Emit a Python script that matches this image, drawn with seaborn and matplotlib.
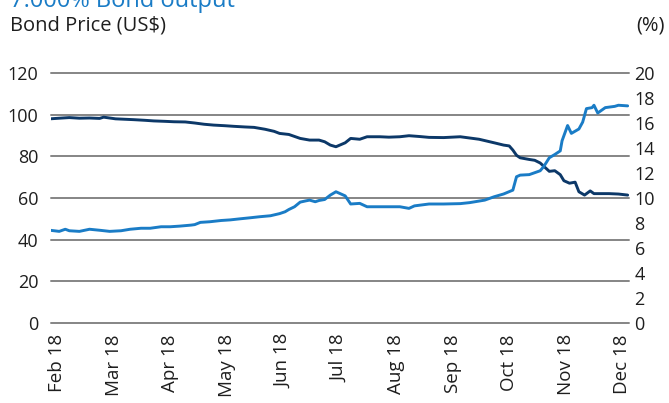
import matplotlib
matplotlib.use("Agg")
import matplotlib.pyplot as plt
import seaborn as sns
import pandas as pd

# Bond price (US$), left axis
price_dates = [
    "2018-01-28", "2018-02-02", "2018-02-07", "2018-02-12", "2018-02-17", "2018-02-22",
    "2018-02-24", "2018-03-02", "2018-03-07", "2018-03-12", "2018-03-18", "2018-03-23",
    "2018-03-29", "2018-04-03", "2018-04-09", "2018-04-14", "2018-04-19", "2018-04-24",
    "2018-04-30", "2018-05-05", "2018-05-11", "2018-05-16", "2018-05-22", "2018-05-27",
    "2018-05-30", "2018-06-04", "2018-06-10", "2018-06-15", "2018-06-20", "2018-06-23",
    "2018-06-26", "2018-06-29", "2018-07-04", "2018-07-07", "2018-07-12", "2018-07-16",
    "2018-07-23", "2018-07-28", "2018-08-03", "2018-08-08", "2018-08-14", "2018-08-19",
    "2018-08-27", "2018-09-05", "2018-09-10", "2018-09-15", "2018-09-23", "2018-09-28",
    "2018-10-01", "2018-10-03", "2018-10-05", "2018-10-07", "2018-10-12", "2018-10-15",
    "2018-10-18", "2018-10-20", "2018-10-23", "2018-10-26", "2018-10-29", "2018-10-31",
    "2018-11-03", "2018-11-06", "2018-11-08", "2018-11-11", "2018-11-14", "2018-11-16",
    "2018-11-24", "2018-11-29", "2018-12-04",
]
price = [
    98.0, 98.3, 98.6, 98.3, 98.4, 98.2,
    98.8, 98.0, 97.8, 97.6, 97.3, 97.0,
    96.8, 96.6, 96.5, 96.0, 95.4, 95.0,
    94.7, 94.4, 94.1, 93.9, 93.0, 92.0,
    91.0, 90.5, 88.6, 87.8, 87.8, 87.0,
    85.4, 84.6, 86.5, 88.6, 88.2, 89.4,
    89.4, 89.2, 89.4, 89.9, 89.5, 89.1,
    89.0, 89.4, 88.8, 88.2, 86.5, 85.4,
    85.0, 83.0, 80.5, 79.3, 78.5, 78.1,
    76.8, 75.2, 72.8, 73.1, 71.2, 68.3,
    67.1, 67.6, 63.0, 61.4, 63.4, 62.1,
    62.1, 61.9, 61.4,
]

# Yield to maturity (%), right axis
yield_dates = [
    "2018-01-28", "2018-02-02", "2018-02-05", "2018-02-07", "2018-02-12", "2018-02-17",
    "2018-02-22", "2018-02-27", "2018-03-05", "2018-03-10", "2018-03-16", "2018-03-21",
    "2018-03-27", "2018-04-01", "2018-04-06", "2018-04-12", "2018-04-14", "2018-04-17",
    "2018-04-22", "2018-04-28", "2018-05-03", "2018-05-08", "2018-05-14", "2018-05-19",
    "2018-05-25", "2018-05-30", "2018-06-02", "2018-06-04", "2018-06-07", "2018-06-10",
    "2018-06-13", "2018-06-15", "2018-06-18", "2018-06-20", "2018-06-23", "2018-06-26",
    "2018-06-29", "2018-07-04", "2018-07-07", "2018-07-12", "2018-07-16", "2018-07-23",
    "2018-07-28", "2018-08-03", "2018-08-08", "2018-08-11", "2018-08-19", "2018-08-27",
    "2018-09-05", "2018-09-10", "2018-09-18", "2018-09-23", "2018-09-28", "2018-10-03",
    "2018-10-05", "2018-10-07", "2018-10-12", "2018-10-18", "2018-10-20", "2018-10-23",
    "2018-10-26", "2018-10-29", "2018-10-30", "2018-11-02", "2018-11-04", "2018-11-08",
    "2018-11-10", "2018-11-12", "2018-11-15", "2018-11-16", "2018-11-18", "2018-11-22",
    "2018-11-27", "2018-11-29", "2018-12-04",
]
yield_pct = [
    7.42, 7.33, 7.50, 7.38, 7.33, 7.50,
    7.42, 7.33, 7.38, 7.50, 7.58, 7.58,
    7.70, 7.70, 7.75, 7.83, 7.87, 8.05,
    8.10, 8.20, 8.25, 8.33, 8.42, 8.50,
    8.58, 8.75, 8.90, 9.08, 9.30, 9.67,
    9.77, 9.83, 9.70, 9.80, 9.88, 10.23,
    10.50, 10.17, 9.52, 9.57, 9.30, 9.30,
    9.30, 9.30, 9.17, 9.37, 9.52, 9.52,
    9.55, 9.63, 9.83, 10.10, 10.32, 10.63,
    11.70, 11.83, 11.87, 12.18, 12.53, 13.22,
    13.48, 13.77, 14.58, 15.80, 15.17, 15.52,
    16.07, 17.15, 17.23, 17.42, 16.80, 17.23,
    17.33, 17.42, 17.37,
]

month_labels = ["Feb 18", "Mar 18", "Apr 18", "May 18", "Jun 18", "Jul 18",
                "Aug 18", "Sep 18", "Oct 18", "Nov 18", "Dec 18"]
price_ticks = [0, 20, 40, 60, 80, 100, 120]
yield_ticks = [0, 2, 4, 6, 8, 10, 12, 14, 16, 18, 20]

NAVY = "#0c3868"
BLUE = "#1a7cc6"
GRID = "#858585"
TEXT = "#1e1e1e"


def month_position(dates):
    """Place dates on an axis where every month has equal width (Feb 1 = 0)."""
    d = pd.to_datetime(pd.Series(dates))
    return (d.dt.month - 2) + (d.dt.day - 1) / d.dt.days_in_month


price_df = pd.DataFrame({"pos": month_position(price_dates), "price": price})
yield_df = pd.DataFrame({"pos": month_position(yield_dates), "yield": yield_pct})

sns.set_theme(style="white")
plt.rcParams["font.family"] = ["Open Sans", "DejaVu Sans"]

fig = plt.figure(figsize=(6.69, 4.03), dpi=100)
ax = fig.add_axes([51 / 669, 1 - 323 / 403, (629 - 51) / 669, (323 - 73) / 403])
ax2 = ax.twinx()

# horizontal reference lines
for v in price_ticks:
    ax.axhline(v, color=GRID, linewidth=1.4, clip_on=False, zorder=1)

sns.lineplot(data=price_df, x="pos", y="price", ax=ax, color=NAVY,
             linewidth=2.1, zorder=3)
sns.lineplot(data=yield_df, x="pos", y="yield", ax=ax2, color=BLUE,
             linewidth=2.1, zorder=3)

ax.set_xlim(-0.11, 10.12)
ax.set_ylim(0, 120)
ax2.set_ylim(0, 20)

ax.set_yticks(price_ticks)
ax2.set_yticks(yield_ticks)
ax.set_xticks(range(len(month_labels)))
ax.set_xticklabels(month_labels, rotation=90, va="top", ha="center")

ax.tick_params(axis="y", length=0, pad=9, labelsize=13, labelcolor=TEXT)
ax2.tick_params(axis="y", length=0, pad=4, labelsize=13, labelcolor=TEXT)
ax.tick_params(axis="x", length=0, pad=8, labelsize=13.5, labelcolor=TEXT)

for a in (ax, ax2):
    a.set_xlabel("")
    a.set_ylabel("")
    for s in a.spines.values():
        s.set_visible(False)
    a.grid(False)

fig.text(10 / 669, 1 - 7 / 403, "7.000% Bond output", color=BLUE,
         fontsize=17, ha="left", va="baseline")
fig.text(10 / 669, 1 - 25 / 403, "Bond Price (US$)", color=TEXT,
         fontsize=14.5, ha="left", va="center")
fig.text(665 / 669, 1 - 25 / 403, "(%)", color=TEXT,
         fontsize=14.5, ha="right", va="center")

fig.savefig("out.png", dpi=100)
